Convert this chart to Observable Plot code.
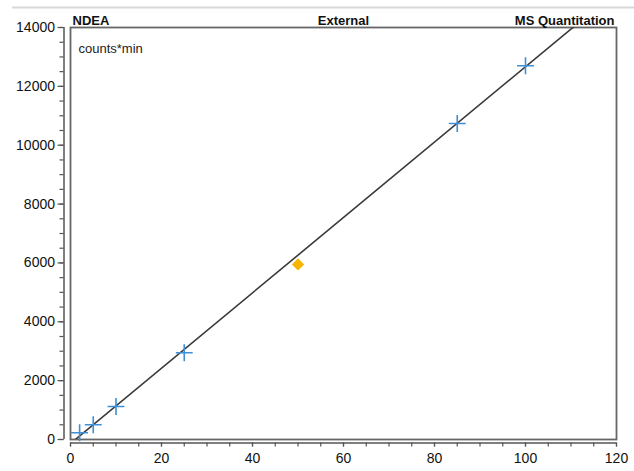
<!DOCTYPE html>
<html><head><meta charset="utf-8">
<script src="https://cdn.jsdelivr.net/npm/d3@7"></script>
<script src="https://cdn.jsdelivr.net/npm/@observablehq/plot@0.6"></script>
<style>
body{margin:0;background:#fff}
#chart svg{display:block}
</style>
</head><body><div id="chart"></div>
<script>
// Calibration standards (blue crosses)
const calX = [2, 5, 10, 25, 85, 100];
const calY = [230, 500, 1120, 2950, 10740, 12700];
// Check sample (orange diamond)
const qcX = [50];
const qcY = [5950];
// Axis ticks
const xTicks = [0, 20, 40, 60, 80, 100, 120];
const xMinor = d3.range(0, 121, 5);
const yTicks = [0, 2000, 4000, 6000, 8000, 10000, 12000, 14000];
const yMinor = d3.range(0, 14001, 500);
// Texts
const titleLeft = "NDEA";
const titleMid = "External";
const titleRight = "MS Quantitation";
const yUnit = "counts*min";

const cal = calX.map((x, i) => ({x, y: calY[i]}));
const qc = qcX.map((x, i) => ({x, y: qcY[i]}));

// least-squares calibration line from the standards
const mx = d3.mean(calX), my = d3.mean(calY);
const slope = d3.sum(calX, (x, i) => (x - mx) * (calY[i] - my)) / d3.sum(calX, x => (x - mx) ** 2);
const intercept = my - slope * mx;
const fit = [xTicks[0], xTicks[xTicks.length - 1]].map(x => ({x, y: intercept + slope * x}));

const axisColor = "#555";
const topRule = (index, scales, values, dims) => {
  const ns = "http://www.w3.org/2000/svg";
  const l = document.createElementNS(ns, "line");
  l.setAttribute("x1", 12); l.setAttribute("x2", dims.width);
  l.setAttribute("y1", 7.5); l.setAttribute("y2", 7.5);
  l.setAttribute("stroke", "#d8d8d8"); l.setAttribute("stroke-width", 2);
  return l;
};

const chart = Plot.plot({
  width: 634,
  height: 471,
  marginLeft: 70,
  marginRight: 18,
  marginTop: 27,
  marginBottom: 32,
  style: {fontFamily: "'Liberation Sans', Arial, sans-serif", fontSize: "14px", color: "#111", background: "#fff"},
  x: {domain: [0, 120], label: null},
  y: {domain: [0, 14000], label: null},
  marks: [
    topRule,
    // y axis (offset to the left of the frame)
    Plot.ruleX([0], {y1: 0, y2: 14000, dx: -6.5, stroke: axisColor, strokeWidth: 1.5}),
    Plot.axisY({ticks: yMinor, tickSize: 4, text: null, label: null, dx: -6.5, stroke: axisColor, strokeWidth: 1.2}),
    Plot.axisY({ticks: yTicks, tickSize: 6, tickPadding: 3, dx: -6.5, stroke: axisColor, strokeWidth: 1.2, label: null, tickFormat: d => String(d), fill: "#111"}),
    // x axis (offset below the frame)
    Plot.ruleY([0], {x1: 0, x2: 120, dy: 3.5, stroke: axisColor, strokeWidth: 1.5}),
    Plot.axisX({ticks: xMinor, tickSize: 4, text: null, label: null, dy: 3.5, stroke: axisColor, strokeWidth: 1.2}),
    Plot.axisX({ticks: xTicks, tickSize: 4, tickPadding: 6, dy: 3.5, stroke: axisColor, strokeWidth: 1.2, label: null, tickFormat: d => String(d), fill: "#111"}),
    Plot.frame({stroke: "#666", strokeWidth: 1.8}),
    // calibration line
    Plot.line(fit, {x: "x", y: "y", stroke: "#3a3a3a", strokeWidth: 1.6, clip: true}),
    // standards
    Plot.dot(cal, {x: "x", y: "y", symbol: "plus", r: 5.5, stroke: "#3d8fd6", strokeWidth: 1.6}),
    Plot.dot(qc, {x: "x", y: "y", symbol: d3.symbolDiamond2, r: 5.5, fill: "#f7b400", stroke: "none"}),
    // texts
    Plot.text([yUnit], {frameAnchor: "top-left", dx: 8, dy: 16, text: d => d, textAnchor: "start", fontSize: 13, fill: "#222"}),
    Plot.text([titleLeft], {frameAnchor: "top-left", dx: 2, dy: -12, text: d => d, textAnchor: "start", fontWeight: "bold", fontSize: 13, fill: "#111"}),
    Plot.text([titleMid], {frameAnchor: "top", dy: -12, text: d => d, textAnchor: "middle", fontWeight: "bold", fontSize: 13, fill: "#111"}),
    Plot.text([titleRight], {frameAnchor: "top-right", dx: -2, dy: -12, text: d => d, textAnchor: "end", fontWeight: "bold", fontSize: 13, fill: "#111"})
  ]
});
document.getElementById("chart").appendChild(chart);
</script>
</body></html>
